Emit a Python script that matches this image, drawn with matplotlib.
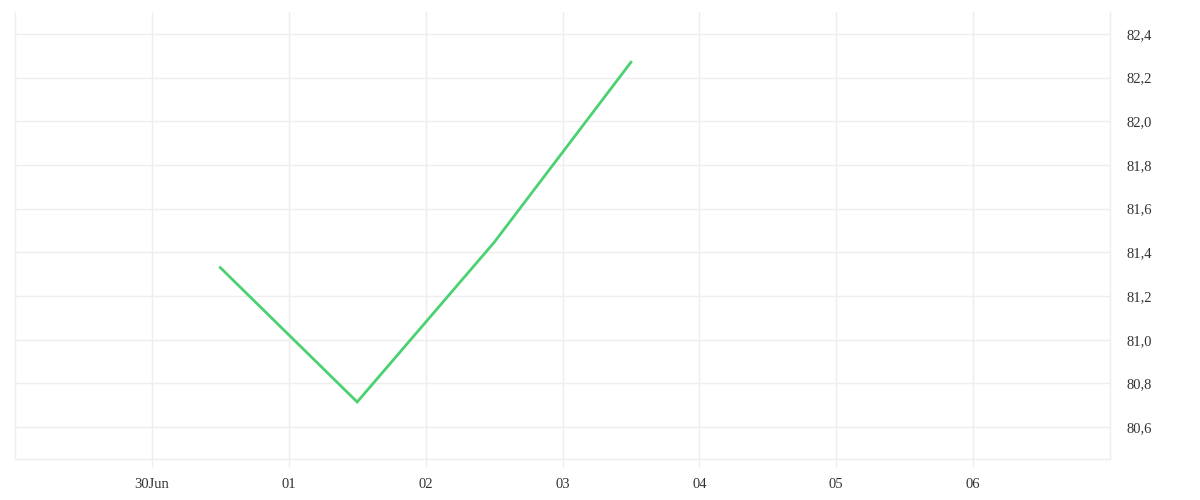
import matplotlib
matplotlib.use("Agg")
import matplotlib.pyplot as plt
import matplotlib.dates as mdates
from matplotlib.ticker import FuncFormatter, FixedLocator
import datetime as dt

# data
times = ["2023-06-30 12:00", "2023-07-01 12:00", "2023-07-02 12:00", "2023-07-03 12:00"]
values = [81.33, 80.715, 81.445, 82.27]
tick_dates = ["2023-06-30", "2023-07-01", "2023-07-02", "2023-07-03",
              "2023-07-04", "2023-07-05", "2023-07-06"]
tick_labels = ["30Jun", "01", "02", "03", "04", "05", "06"]
y_ticks = [80.6, 80.8, 81.0, 81.2, 81.4, 81.6, 81.8, 82.0, 82.2, 82.4]

x = [dt.datetime.strptime(t, "%Y-%m-%d %H:%M") for t in times]
xt = [mdates.date2num(dt.datetime.strptime(t, "%Y-%m-%d")) for t in tick_dates]

plt.rcParams['font.family'] = ['Liberation Serif', 'DejaVu Serif']

fig = plt.figure(figsize=(12, 5), dpi=100)
ax = fig.add_axes([15/1200, 1 - 459/500, (1110 - 15)/1200, (459 - 12)/500])

grid_c = "#eeeeee"
ax.plot(x, values, color="#4cd172", linewidth=2, solid_joinstyle="miter", zorder=3)

ax.set_xlim(dt.datetime(2023, 6, 29), dt.datetime(2023, 7, 7))
ax.set_ylim(80.454, 82.5)

ax.xaxis.set_major_locator(FixedLocator(xt))
ax.set_xticklabels(tick_labels)
ax.yaxis.set_major_locator(FixedLocator(y_ticks))
ax.yaxis.set_major_formatter(FuncFormatter(lambda v, p: f"{v:.1f}".replace(".", ",")))
ax.yaxis.tick_right()

ax.grid(True, color=grid_c, linewidth=1)
for s in ["top"]:
    ax.spines[s].set_visible(False)
for s in ["left", "right", "bottom"]:
    ax.spines[s].set_color(grid_c)
    ax.spines[s].set_linewidth(1)

ax.tick_params(axis="x", length=6, color=grid_c, width=1, pad=7.5, labelsize=10.5, labelcolor="#333333")
ax.tick_params(axis="y", length=0, pad=12, labelsize=10.5, labelcolor="#333333")

fig.savefig("out.png", dpi=100, facecolor="white")
